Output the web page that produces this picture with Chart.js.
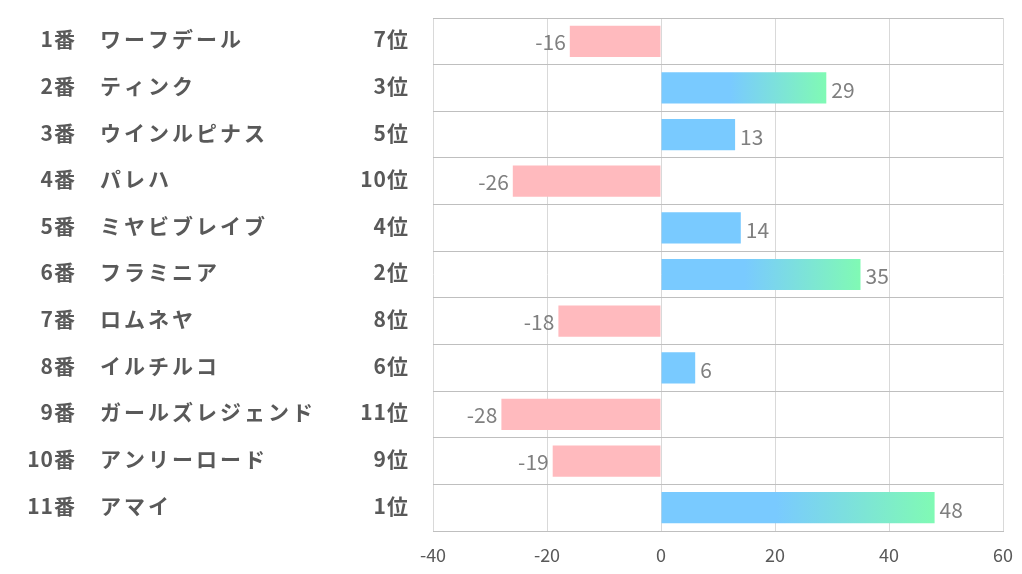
<!DOCTYPE html>
<html>
<head>
<meta charset="utf-8">
<script src="https://cdn.jsdelivr.net/npm/chart.js@4/dist/chart.umd.min.js"></script>
<style>
  html, body { margin: 0; padding: 0; background: #fff; }
  #wrap { width: 1022px; height: 574px; }
</style>
</head>
<body>
<div id="wrap"><canvas id="mainChart" width="1022" height="574"></canvas></div>
<script>
// horse numbers, names, predicted rank and score
const numbers = ['1番', '2番', '3番', '4番', '5番', '6番', '7番', '8番', '9番', '10番', '11番'];
const names = ['ワーフデール', 'ティンク', 'ウインルピナス', 'パレハ', 'ミヤビブレイブ', 'フラミニア', 'ロムネヤ', 'イルチルコ', 'ガールズレジェンド', 'アンリーロード', 'アマイ'];
const ranks = ['7位', '3位', '5位', '10位', '4位', '2位', '8位', '6位', '11位', '9位', '1位'];
const scores = [-16, 29, 13, -26, 14, 35, -18, 6, -28, -19, 48];
const xTicks = [-40, -20, 0, 20, 40, 60];

const FONT = '"Noto Sans CJK JP", "Noto Sans", sans-serif';
const PINK = '#FFBABE';
const BLUE = '#79CAFF';
const GREEN = '#80FAB4';

function barColor(context) {
  const i = context.dataIndex;
  const v = scores[i];
  if (v < 0) return PINK;
  const top3 = ['1位', '2位', '3位'].includes(ranks[i]);
  if (!top3) return BLUE;
  const chart = context.chart;
  if (!chart.chartArea) return BLUE;
  const xs = chart.scales.x;
  const x0 = xs.getPixelForValue(0);
  const x1 = xs.getPixelForValue(v);
  const g = chart.ctx.createLinearGradient(x0, 0, x1, 0);
  g.addColorStop(0, BLUE);
  g.addColorStop(0.42, BLUE);
  g.addColorStop(1, GREEN);
  return g;
}

// draws the left label columns and the value labels next to bars
const labelPlugin = {
  id: 'labelPlugin',
  afterDatasetsDraw(chart) {
    const ctx = chart.ctx;
    const ys = chart.scales.y;
    const meta = chart.getDatasetMeta(0);
    ctx.save();
    ctx.textBaseline = 'middle';
    numbers.forEach((n, i) => {
      const y = ys.getPixelForValue(i) - 2;
      ctx.fillStyle = '#595959';
      ctx.font = 'bold 21px ' + FONT;
      ctx.letterSpacing = '1px';
      ctx.textAlign = 'right';
      ctx.fillText(n, 76, y);
      ctx.fillText(ranks[i], 409, y);
      ctx.textAlign = 'left';
      ctx.letterSpacing = '3px';
      ctx.fillText(names[i], 100, y);

      const bar = meta.data[i];
      ctx.letterSpacing = '0px';
      ctx.font = '21px ' + FONT;
      ctx.fillStyle = '#7F7F7F';
      if (scores[i] < 0) {
        ctx.textAlign = 'right';
        ctx.fillText(String(scores[i]), bar.x - 4, bar.y + 1);
      } else {
        ctx.textAlign = 'left';
        ctx.fillText(String(scores[i]), bar.x + 5, bar.y + 2);
      }
    });
    ctx.restore();
  }
};

new Chart(document.getElementById('mainChart').getContext('2d'), {
  type: 'bar',
  data: {
    labels: names,
    datasets: [{
      data: scores,
      backgroundColor: barColor,
      borderWidth: 0,
      categoryPercentage: 0.67,
      barPercentage: 1.0
    }]
  },
  options: {
    indexAxis: 'y',
    responsive: false,
    animation: false,
    layout: { padding: { left: 433, right: 19, top: 18, bottom: 0 } },
    plugins: {
      legend: { display: false },
      tooltip: { enabled: false }
    },
    scales: {
      x: {
        min: xTicks[0],
        max: xTicks[xTicks.length - 1],
        afterBuildTicks(axis) {
          axis.ticks = xTicks.map(v => ({ value: v }));
        },
        afterFit(axis) {
          axis.height = 43;
          axis.paddingLeft = 0;
          axis.paddingRight = 0;
        },
        grid: { color: '#D9D9D9', lineWidth: 1, drawTicks: false },
        border: { display: true, color: '#BFBFBF' },
        ticks: {
          color: '#595959',
          font: { family: FONT, size: 18 },
          padding: 13
        }
      },
      y: {
        grid: { color: '#BFBFBF', lineWidth: 1, offset: true, drawTicks: false },
        border: { display: false },
        ticks: { display: false }
      }
    }
  },
  plugins: [labelPlugin]
});
</script>
</body>
</html>
